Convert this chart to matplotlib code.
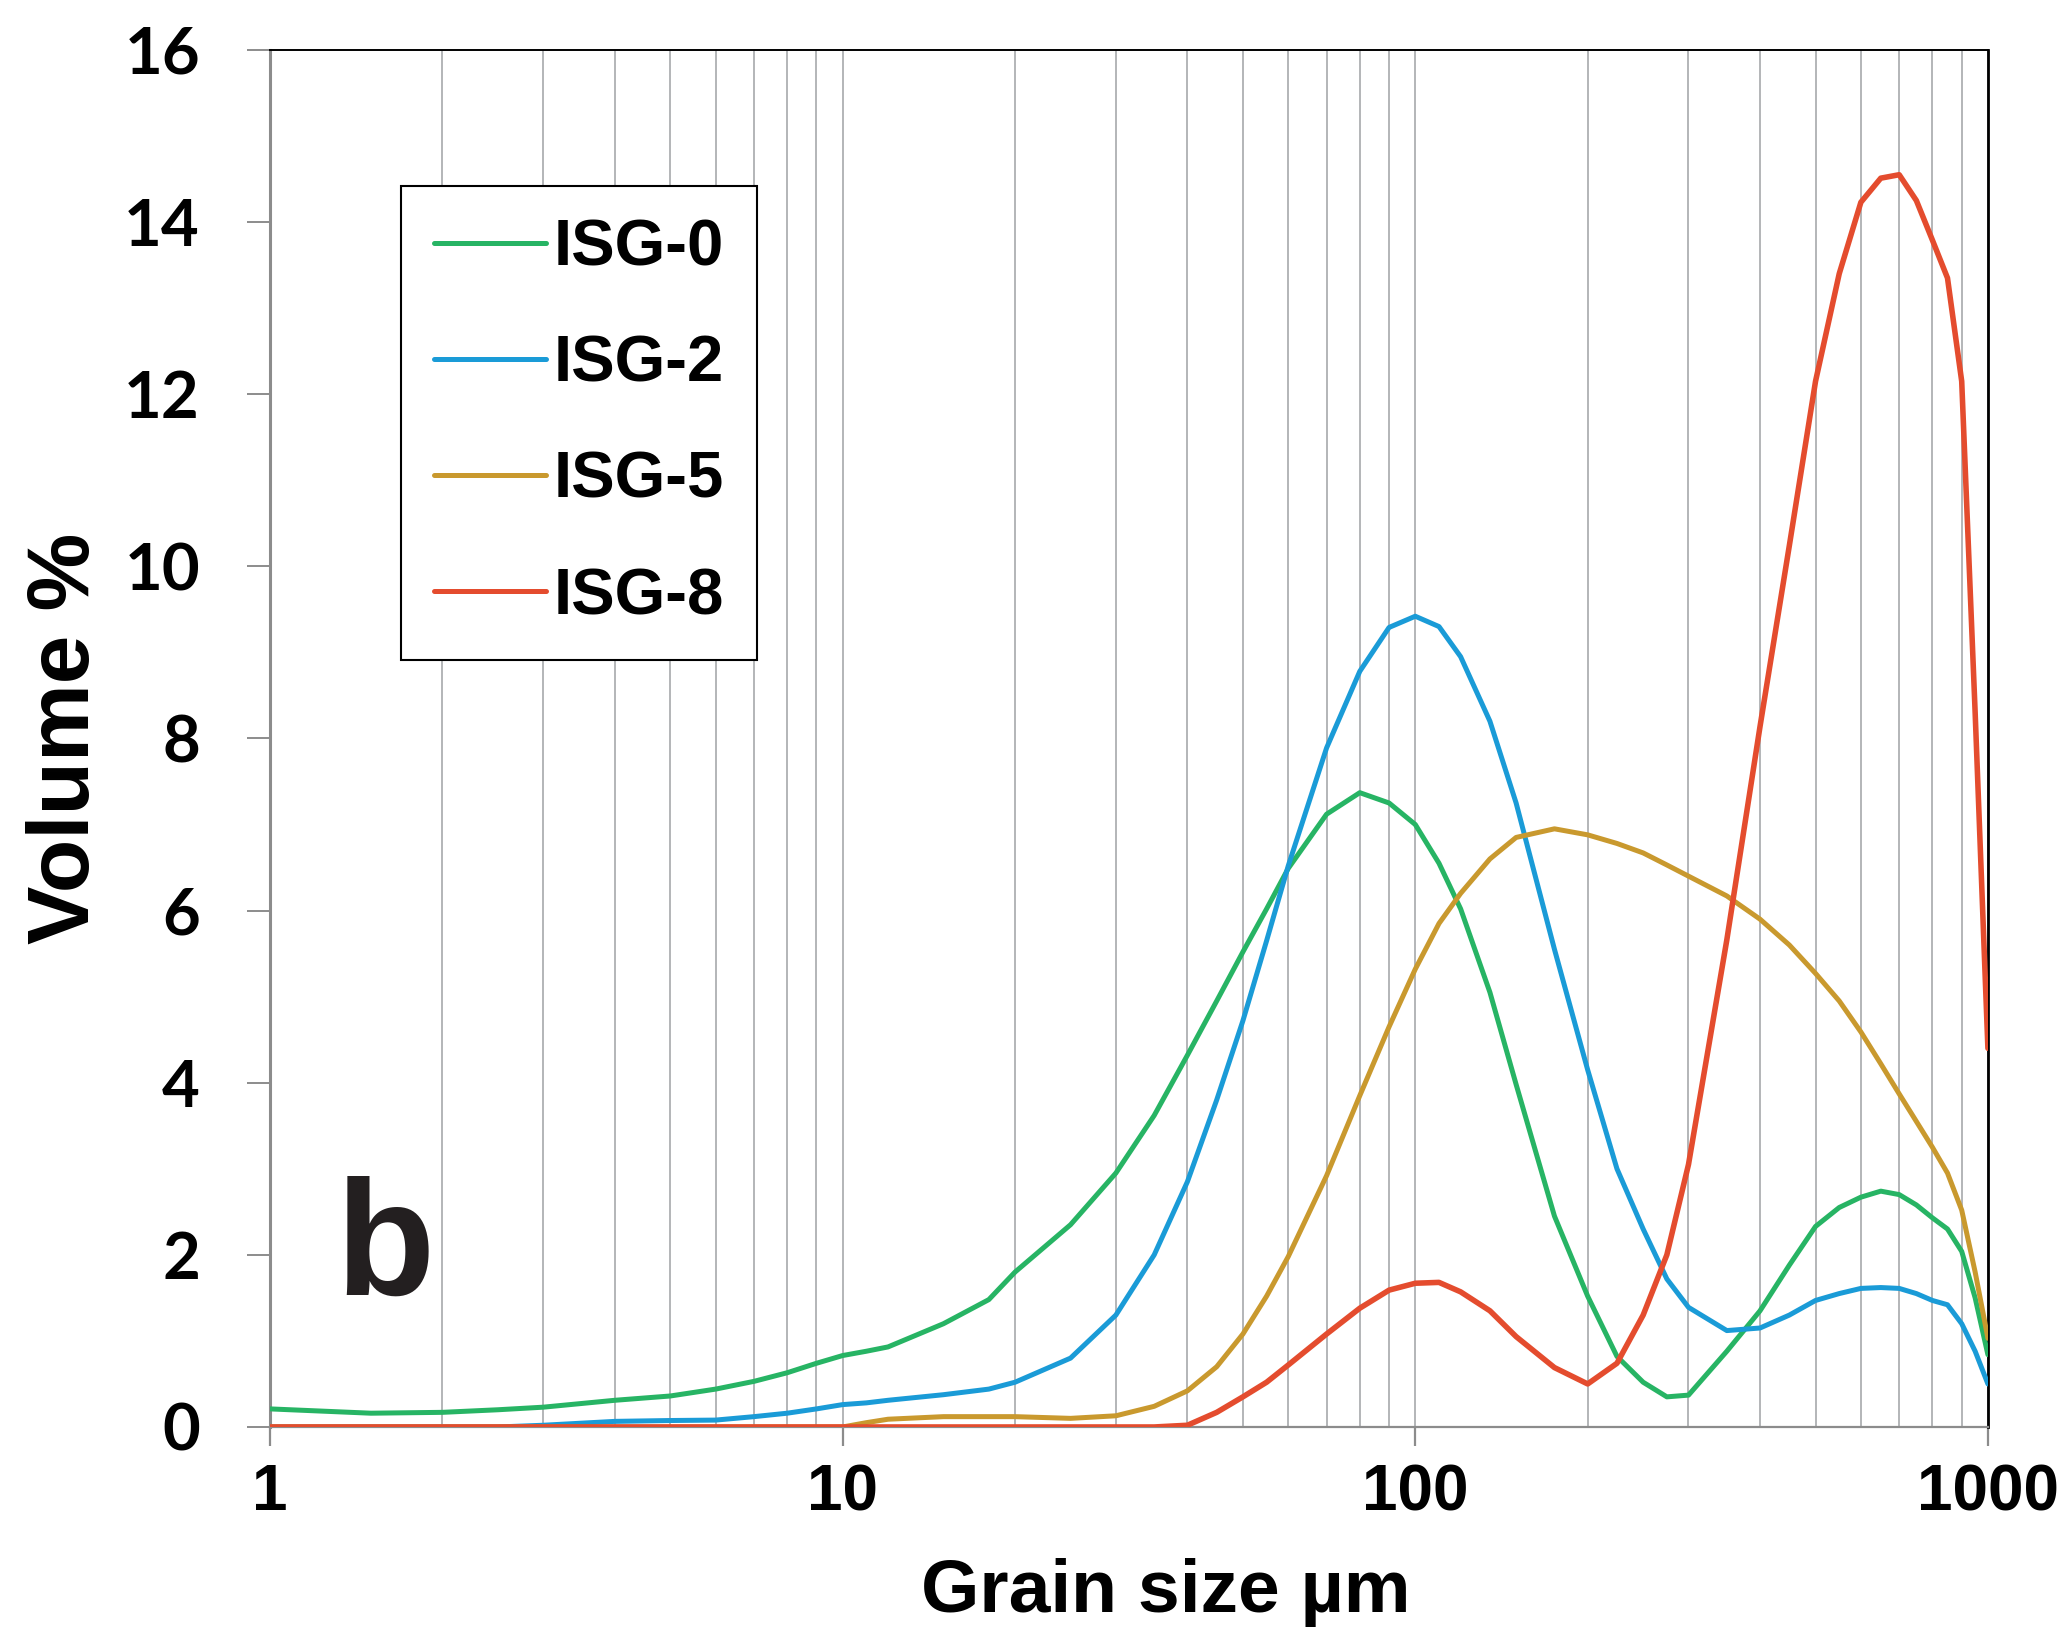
from matplotlib import use as backend_use
backend_use('Agg')
from matplotlib import pyplot as plt
from matplotlib import ticker

# grain size classes (um) and volume % per sample
sizes = [1, 1.5, 2, 2.5, 3, 4, 5, 6, 7, 8, 9, 10,
         11, 12, 15, 18, 20, 25, 30, 35,
         40, 45, 50, 55, 60, 70, 80, 90, 100,
         110, 120, 135, 150, 175, 200, 225, 250, 275, 300,
         350, 400, 450, 500, 550, 600, 650, 700, 750, 800, 850, 900, 950, 1000]

isg0 = [0.21, 0.16, 0.17, 0.20, 0.23, 0.31, 0.36, 0.44, 0.53, 0.63, 0.74, 0.83,
        0.88, 0.93, 1.20, 1.48, 1.80, 2.35, 2.95, 3.62,
        4.32, 4.95, 5.52, 6.02, 6.49, 7.12, 7.37, 7.25, 7.00,
        6.55, 6.02, 5.05, 3.98, 2.45, 1.52, 0.82, 0.52, 0.35, 0.37,
        0.88, 1.35, 1.88, 2.33, 2.55, 2.67, 2.74, 2.70, 2.58, 2.43, 2.30, 2.04, 1.50, 0.84]

isg2 = [0, 0, 0, 0, 0.02, 0.065, 0.075, 0.08, 0.12, 0.16, 0.21, 0.26,
        0.28, 0.31, 0.375, 0.44, 0.52, 0.80, 1.30, 2.00,
        2.85, 3.80, 4.72, 5.65, 6.52, 7.89, 8.78, 9.29, 9.42,
        9.30, 8.95, 8.20, 7.25, 5.55, 4.15, 3.00, 2.30, 1.72, 1.39,
        1.12, 1.15, 1.30, 1.47, 1.55, 1.61, 1.62, 1.61, 1.55, 1.47, 1.42, 1.20, 0.88, 0.50]

isg5 = [0, 0, 0, 0, 0, 0, 0, 0, 0, 0, 0, 0,
        0.05, 0.09, 0.12, 0.12, 0.12, 0.10, 0.13, 0.24,
        0.42, 0.70, 1.08, 1.52, 1.98, 2.92, 3.85, 4.65, 5.32,
        5.85, 6.20, 6.60, 6.85, 6.95, 6.88, 6.78, 6.67, 6.53, 6.40,
        6.17, 5.90, 5.60, 5.27, 4.95, 4.59, 4.22, 3.87, 3.55, 3.25, 2.95, 2.52, 1.80, 1.03]

isg8 = [0, 0, 0, 0, 0, 0, 0, 0, 0, 0, 0, 0,
        0, 0, 0, 0, 0, 0, 0, 0,
        0.02, 0.17, 0.35, 0.52, 0.72, 1.08, 1.38, 1.59, 1.67,
        1.68, 1.57, 1.35, 1.05, 0.69, 0.50, 0.74, 1.30, 2.00, 3.05,
        5.66, 8.14, 10.24, 12.15, 13.40, 14.23, 14.51, 14.55, 14.25, 13.79, 13.35, 12.15, 8.30, 4.40]

labels = ["ISG-0", "ISG-2", "ISG-5", "ISG-8"]
colors = ["#27b464", "#1a9bd7", "#c9992e", "#e44c2e"]
y_ticks = [0, 2, 4, 6, 8, 10, 12, 14, 16]
x_ticks = [1, 10, 100, 1000]

fig = plt.figure(figsize=(20.63, 16.37), dpi=100)
ax = fig.add_axes([0.1309, 0.1283, 0.8327, 0.8412])

grid_color = "#a7a9ac"
# vertical grid at every log subdivision
ax.set_xscale('log')
ax.set_xlim(1, 1000)
ax.set_ylim(0, 16)
ax.xaxis.grid(True, which='both', color=grid_color, linewidth=1.2)
ax.yaxis.grid(False)
ax.set_axisbelow(True)

for values, label, color in zip([isg0, isg2, isg5, isg8], labels, colors):
    lw = 4.0 if label == "ISG-8" else 3.6
    ax.plot(sizes, values, color=color, linewidth=lw, label=label,
            solid_joinstyle='round', solid_capstyle='round', zorder=3)

ax.set_xticks(x_ticks)
ax.xaxis.set_major_formatter(ticker.FixedFormatter([str(v) for v in x_ticks]))
ax.xaxis.set_minor_formatter(ticker.NullFormatter())
ax.set_yticks(y_ticks)

for t in ax.get_xticklabels():
    t.set_fontfamily('Liberation Sans')
    t.set_fontweight('bold')
    t.set_fontsize(46)
for t in ax.get_yticklabels():
    t.set_fontfamily('Lato')
    t.set_fontweight('bold')
    t.set_fontsize(47)

ax.tick_params(axis='x', which='major', direction='out', length=14, width=1.6, color='#8c8c8c', pad=12)
ax.tick_params(axis='x', which='minor', length=0)
ax.tick_params(axis='y', direction='out', length=16.5, width=1.4, color='#8c8c8c', pad=34)

for side in ['left', 'bottom']:
    ax.spines[side].set_color('#8c8c8c')
ax.spines['left'].set_linewidth(2.2)
ax.spines['bottom'].set_linewidth(1.6)
ax.spines['top'].set_color('black')
ax.spines['top'].set_linewidth(1.4)
ax.spines['right'].set_color('black')
ax.spines['right'].set_linewidth(2.0)

ax.set_xlabel("Grain size µm", family='Liberation Sans', weight='bold', fontsize=54)
ax.xaxis.set_label_coords(0.5215, -0.095)
ax.set_ylabel("Volume %", family='Liberation Sans', weight='bold', fontsize=63)
ax.yaxis.set_label_coords(-0.095, 0.5)

ax.text(0.038, 0.096, "b", transform=ax.transAxes, family='Liberation Sans', weight='bold',
        fontsize=117, color='#231f20', va='baseline', ha='left')

leg = ax.legend(loc='upper left', bbox_to_anchor=(0.0763, 0.9012), borderaxespad=0,
                prop=dict(family='Liberation Sans', weight='bold', size=47),
                handlelength=1.72, handletextpad=0.12, labelspacing=0.86,
                borderpad=0.5, fancybox=False, framealpha=1, edgecolor='black')
leg.get_frame().set_linewidth(1.5)
for line in leg.get_lines():
    line.set_linewidth(3.6)

fig.savefig("out.png", dpi=100)
